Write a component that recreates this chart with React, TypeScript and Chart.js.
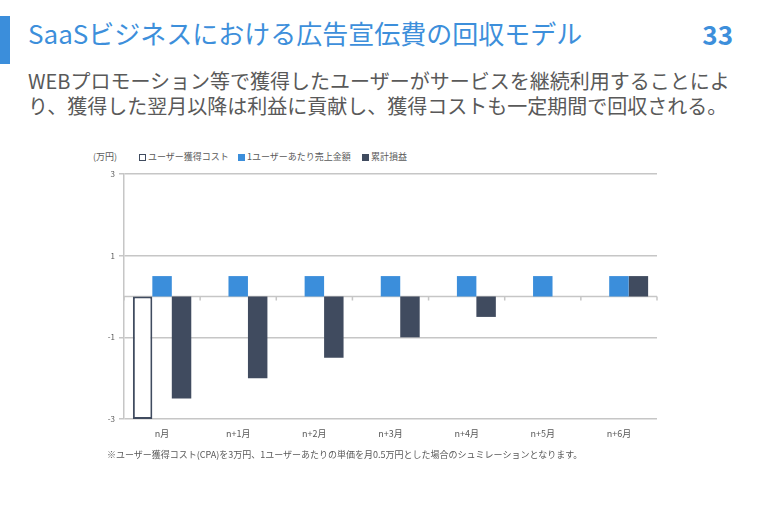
import React, { useEffect, useRef } from "react";
import { Chart, registerables } from "chart.js";

Chart.register(...registerables);

const categories = ["n月", "n+1月", "n+2月", "n+3月", "n+4月", "n+5月", "n+6月"];
const costLabel = "ユーザー獲得コスト";
const salesLabel = "1ユーザーあたり売上金額";
const cumLabel = "累計損益";
const acquisitionCost = [-3, null, null, null, null, null, null];
const monthlySales = [0.5, 0.5, 0.5, 0.5, 0.5, 0.5, 0.5];
const cumulativePL = [-2.5, -2, -1.5, -1, -0.5, 0, 0.5];
const yMin = -3;
const yMax = 3;
const yStep = 2;

const BLUE = "#3b8edb";
const DARK = "#404b5f";
const GRID = "#c6c6c6";
const TEXT = "#595959";
const FONT = "'Noto Sans CJK JP', 'Noto Sans', sans-serif";

const zeroLinePlugin = {
  id: "zeroLine",
  beforeDatasetsDraw(chart: any) {
    const { ctx, chartArea, scales } = chart;
    const y0 = scales.y.getPixelForValue(0);
    const x = scales.x;
    ctx.save();
    ctx.strokeStyle = GRID;
    ctx.lineWidth = 1.5;
    ctx.beginPath();
    ctx.moveTo(chartArea.left, y0);
    ctx.lineTo(chartArea.right, y0);
    const n = categories.length;
    const step = x.getPixelForValue(1) - x.getPixelForValue(0);
    for (let i = 0; i <= n; i++) {
      const bx = x.getPixelForValue(0) - step / 2 + i * step;
      ctx.moveTo(bx, y0);
      ctx.lineTo(bx, y0 + 4);
    }
    ctx.stroke();
    ctx.restore();
  },
};

function BarChart() {
  const ref = useRef<HTMLCanvasElement>(null);
  useEffect(() => {
    if (!ref.current) return;
    const chart = new Chart(ref.current, {
      type: "bar",
      data: {
        labels: categories,
        datasets: [
          {
            label: costLabel,
            data: acquisitionCost,
            backgroundColor: "#ffffff",
            borderColor: DARK,
            borderWidth: 2,
            borderSkipped: false,
          },
          {
            label: salesLabel,
            data: monthlySales,
            backgroundColor: BLUE,
          },
          {
            label: cumLabel,
            data: cumulativePL,
            backgroundColor: DARK,
          },
        ],
      },
      options: {
        animation: false,
        responsive: false,
        layout: { padding: { left: 0, top: 9, right: 23, bottom: 0 } },
        datasets: { bar: { categoryPercentage: 0.767, barPercentage: 1 } },
        plugins: { legend: { display: false }, tooltip: { enabled: false } },
        scales: {
          x: {
            grid: { display: false, drawTicks: false },
            border: { display: false },
            ticks: { color: TEXT, font: { family: FONT, size: 9 }, padding: 9 },
            afterFit(scale: any) {
              scale.height = 31;
            },
          },
          y: {
            min: yMin,
            max: yMax,
            ticks: {
              stepSize: yStep,
              color: TEXT,
              font: { family: FONT, size: 8 },
              padding: 4,
            },
            grid: { color: GRID, lineWidth: 1.5, tickLength: 5 },
            border: { display: true, color: GRID, width: 1.5 },
            afterFit(scale: any) {
              scale.width = 44;
            },
          },
        },
      },
      plugins: [zeroLinePlugin],
    } as any);
    return () => chart.destroy();
  }, []);
  return <canvas ref={ref} width={600} height={285} />;
}

const legendItems = [
  { label: costLabel, fill: "#ffffff", border: DARK, left: 139 },
  { label: salesLabel, fill: BLUE, border: BLUE, left: 238 },
  { label: cumLabel, fill: DARK, border: DARK, left: 362 },
];

export default function App() {
  return (
    <div
      style={{
        position: "absolute",
        left: 0,
        top: 0,
        width: 770,
        height: 523,
        background: "#ffffff",
        fontFamily: FONT,
        overflow: "hidden",
      }}
    >
      <div style={{ position: "absolute", left: 0, top: 16, width: 10, height: 48, background: BLUE }} />
      <div
        style={{
          position: "absolute",
          left: 28,
          top: 20,
          fontSize: 26,
          lineHeight: "26px",
          color: "#3d8fdb",
          whiteSpace: "nowrap",
        }}
      >
        SaaSビジネスにおける広告宣伝費の回収モデル
      </div>
      <div
        style={{
          position: "absolute",
          right: 37,
          top: 21,
          fontSize: 26,
          lineHeight: "26px",
          fontWeight: 700,
          color: "#3d8fdb",
        }}
      >
        33
      </div>
      <div
        style={{
          position: "absolute",
          left: 28,
          top: 68,
          fontSize: 20,
          lineHeight: "25px",
          color: TEXT,
          whiteSpace: "nowrap",
        }}
      >
        <div>WEBプロモーション等で獲得したユーザーがサービスを継続利用することによ</div>
        <div>り、獲得した翌月以降は利益に貢献し、獲得コストも一定期間で回収される。</div>
      </div>
      <div style={{ position: "absolute", left: 93, top: 151, fontSize: 9, lineHeight: "12px", color: TEXT }}>
        (万円)
      </div>
      {legendItems.map((it) => (
        <div
          key={it.label}
          style={{
            position: "absolute",
            left: it.left,
            top: 151,
            display: "flex",
            alignItems: "center",
            fontSize: 9,
            lineHeight: "12px",
            color: TEXT,
            whiteSpace: "nowrap",
          }}
        >
          <span
            style={{
              display: "inline-block",
              width: 7,
              height: 7,
              boxSizing: "border-box",
              background: it.fill,
              border: `1.5px solid ${it.border}`,
              marginRight: 2,
            }}
          />
          {it.label}
        </div>
      ))}
      <div style={{ position: "absolute", left: 80, top: 165, width: 600, height: 285 }}>
        <BarChart />
      </div>
      <div
        style={{
          position: "absolute",
          left: 107,
          top: 449,
          fontSize: 9,
          lineHeight: "12px",
          color: TEXT,
          whiteSpace: "nowrap",
        }}
      >
        ※ユーザー獲得コスト(CPA)を3万円、1ユーザーあたりの単価を月0.5万円とした場合のシュミレーションとなります。
      </div>
    </div>
  );
}
